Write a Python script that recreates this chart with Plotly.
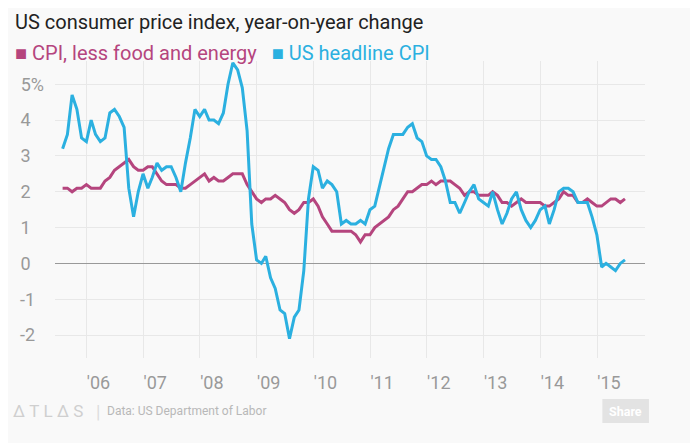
import pandas as pd
import plotly.graph_objects as go

# monthly, Jul 2005 - Jun 2015 (points sit at month end)
months = pd.date_range("2005-07-31", "2015-06-30", freq="ME")

core_cpi = [
    2.1, 2.1, 2.0, 2.1, 2.1, 2.2,                                # 2005 H2
    2.1, 2.1, 2.1, 2.3, 2.4, 2.6, 2.7, 2.8, 2.9, 2.7, 2.6, 2.6,  # 2006
    2.7, 2.7, 2.5, 2.3, 2.2, 2.2, 2.2, 2.1, 2.1, 2.2, 2.3, 2.4,  # 2007
    2.5, 2.3, 2.4, 2.3, 2.3, 2.4, 2.5, 2.5, 2.5, 2.2, 2.0, 1.8,  # 2008
    1.7, 1.8, 1.8, 1.9, 1.8, 1.7, 1.5, 1.4, 1.5, 1.7, 1.7, 1.8,  # 2009
    1.6, 1.3, 1.1, 0.9, 0.9, 0.9, 0.9, 0.9, 0.8, 0.6, 0.8, 0.8,  # 2010
    1.0, 1.1, 1.2, 1.3, 1.5, 1.6, 1.8, 2.0, 2.0, 2.1, 2.2, 2.2,  # 2011
    2.3, 2.2, 2.3, 2.3, 2.3, 2.2, 2.1, 1.9, 2.0, 2.0, 1.9, 1.9,  # 2012
    1.9, 2.0, 1.9, 1.7, 1.7, 1.6, 1.7, 1.8, 1.7, 1.7, 1.7, 1.7,  # 2013
    1.6, 1.6, 1.7, 1.8, 2.0, 1.9, 1.9, 1.7, 1.7, 1.8, 1.7, 1.6,  # 2014
    1.6, 1.7, 1.8, 1.8, 1.7, 1.8,                                # 2015 H1
]

headline_cpi = [
    3.2, 3.6, 4.7, 4.3, 3.5, 3.4,
    4.0, 3.6, 3.4, 3.5, 4.2, 4.3, 4.1, 3.8, 2.1, 1.3, 2.0, 2.5,
    2.1, 2.4, 2.8, 2.6, 2.7, 2.7, 2.4, 2.0, 2.8, 3.5, 4.3, 4.1,
    4.3, 4.0, 4.0, 3.9, 4.2, 5.0, 5.6, 5.4, 4.9, 3.7, 1.1, 0.1,
    0.0, 0.2, -0.4, -0.7, -1.3, -1.4, -2.1, -1.5, -1.3, -0.2, 1.8, 2.7,
    2.6, 2.1, 2.3, 2.2, 2.0, 1.1, 1.2, 1.1, 1.1, 1.2, 1.1, 1.5,
    1.6, 2.1, 2.7, 3.2, 3.6, 3.6, 3.6, 3.8, 3.9, 3.5, 3.4, 3.0,
    2.9, 2.9, 2.7, 2.3, 1.7, 1.7, 1.4, 1.7, 2.0, 2.2, 1.8, 1.7,
    1.6, 2.0, 1.5, 1.1, 1.4, 1.8, 2.0, 1.5, 1.2, 1.0, 1.2, 1.5,
    1.6, 1.1, 1.5, 2.0, 2.1, 2.1, 2.0, 1.7, 1.7, 1.7, 1.3, 0.8,
    -0.1, 0.0, -0.1, -0.2, 0.0, 0.1,
]

y_ticks = [-2, -1, 0, 1, 2, 3, 4, 5]
y_labels = ["-2\u00a0\u00a0", "-1\u00a0\u00a0", "0\u00a0\u00a0\u00a0", "1\u00a0\u00a0\u00a0",
            "2\u00a0\u00a0\u00a0", "3\u00a0\u00a0\u00a0", "4\u00a0\u00a0\u00a0", "5%"]

CORE_COL = "#b5457e"
HEAD_COL = "#2bb0e0"
BG = "#f9f9f9"
FONT = "Roboto"

# the page body adds an 8px margin, so the figure is a bit smaller than the window
OFF = 8
W, H = 698 - OFF, 443 - OFF
L, R, T, B = 50 - OFF, 53, 61 - OFF, 85


def px_x(p):
    # page pixel -> paper x
    return (p - OFF - L) / (W - L - R)


def px_y(p):
    # page pixel -> paper y
    return (H - B - (p - OFF)) / (H - T - B)


fig = go.Figure()
fig.add_trace(go.Scatter(x=months, y=core_cpi, mode="lines", name="CPI, less food and energy",
                         line=dict(color=CORE_COL, width=3)))
fig.add_trace(go.Scatter(x=months, y=headline_cpi, mode="lines", name="US headline CPI",
                         line=dict(color=HEAD_COL, width=3)))

fig.update_layout(
    width=W, height=H,
    margin=dict(l=L, r=R, t=T, b=B),
    paper_bgcolor=BG, plot_bgcolor=BG,
    showlegend=False,
    font=dict(family=FONT, color="#999"),
    xaxis=dict(
        type="date",
        range=["2005-06-12", "2015-11-06"],
        tick0="2006-01-01", dtick="M12", tickformat="'%y",
        showgrid=True, gridcolor="#e8e8e8", gridwidth=1,
        zeroline=False, showline=False, ticks="",
        tickfont=dict(size=18, color="#999"),
        ticklabelshift=12, ticklabelstandoff=12,
    ),
    yaxis=dict(
        range=[-2.64, 5.65],
        tickvals=y_ticks, ticktext=y_labels,
        showgrid=True, gridcolor="#e8e8e8", gridwidth=1,
        zeroline=True, zerolinecolor="#999", zerolinewidth=1,
        showline=False, ticks="",
        tickfont=dict(size=18, color="#999"),
        ticklabelstandoff=10,
    ),
)

annotations = [
    dict(text="US consumer price index, year-on-year change",
         x=px_x(8), y=px_y(22), xanchor="left", yanchor="middle",
         font=dict(size=20, color="#222", family=FONT)),
    dict(text=f"<span style='color:{CORE_COL}'>■ CPI, less food and energy</span>"
              f"\u00a0\u00a0\u00a0<span style='color:{HEAD_COL}'>■ US headline CPI</span>",
         x=px_x(8), y=px_y(53), xanchor="left", yanchor="middle",
         font=dict(size=20, family=FONT)),
    dict(text="\u00a0".join("ΔTLΔS"), x=px_x(6), y=px_y(411), xanchor="left", yanchor="middle",
         font=dict(size=17, color="#cfcfcf", family=FONT)),
    dict(text="|", x=px_x(89), y=px_y(411), xanchor="left", yanchor="middle",
         font=dict(size=18, color="#dddddd", family=FONT)),
    dict(text="Data: US Department of Labor", x=px_x(100), y=px_y(411),
         xanchor="left", yanchor="middle",
         font=dict(size=12, color="#b8b8b8", family=FONT)),
    dict(text="<b>Share</b>", x=px_x(625), y=px_y(411), xanchor="center", yanchor="middle",
         font=dict(size=12.5, color="#ffffff", family=FONT)),
]
for a in annotations:
    a.update(xref="paper", yref="paper", showarrow=False)
fig.update_layout(annotations=annotations)

fig.add_shape(type="rect", xref="paper", yref="paper",
              x0=px_x(602), x1=px_x(649), y0=px_y(399), y1=px_y(423),
              fillcolor="#e3e3e3", line=dict(width=0), layer="below")

fig.write_html("out.html")
